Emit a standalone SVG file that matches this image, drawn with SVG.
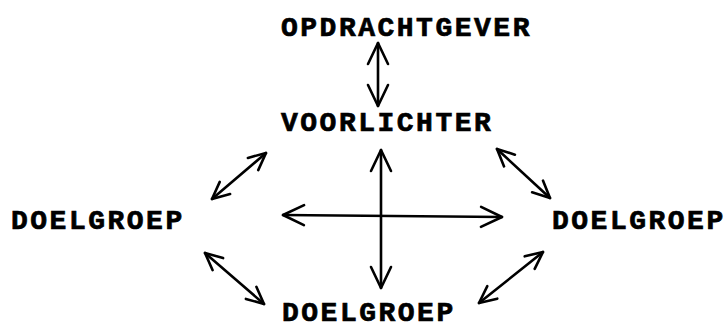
<svg xmlns="http://www.w3.org/2000/svg" width="727" height="329" viewBox="0 0 727 329">
  <style>
    .lbl { font-family: "Liberation Mono", "Courier New", monospace; font-weight: bold; font-size: 28px; letter-spacing: 2.5px; fill: #000; stroke: #000; stroke-width: 0.7px; }
    .con { stroke: #000; stroke-width: 2.6; fill: none; stroke-linecap: round; }
    .big { marker-start: url(#head); marker-end: url(#head); }
    .sm { marker-start: url(#headS); marker-end: url(#headS); }
  </style>
  <defs>
    <marker id="head" markerUnits="userSpaceOnUse" viewBox="-24 -13 26 26" refX="0" refY="0" markerWidth="26" markerHeight="26" orient="auto-start-reverse">
      <path d="M-21,-10 L0,0 L-21,10" fill="none" stroke="#000" stroke-width="2.6" stroke-linecap="round" stroke-linejoin="round"/>
    </marker>
    <marker id="headS" markerUnits="userSpaceOnUse" viewBox="-24 -13 26 26" refX="0" refY="0" markerWidth="26" markerHeight="26" orient="auto-start-reverse">
      <path d="M-17,-8 L0,0 L-17,8" fill="none" stroke="#000" stroke-width="2.6" stroke-linecap="round" stroke-linejoin="round"/>
    </marker>
  </defs>
  <rect width="727" height="329" fill="#fff"/>
  <g id="opdrachtgever"><text class="lbl" x="281" y="36">OPDRACHTGEVER</text></g>
  <g id="voorlichter"><text class="lbl" x="281" y="131">VOORLICHTER</text></g>
  <g id="doelgroep-links"><text class="lbl" x="11" y="229">DOELGROEP</text></g>
  <g id="doelgroep-rechts"><text class="lbl" x="552" y="229">DOELGROEP</text></g>
  <g id="doelgroep-onder"><text class="lbl" x="282" y="321">DOELGROEP</text></g>
  <g id="connectors">
    <line class="con big" x1="378" y1="43" x2="378" y2="106"/>
    <line class="con big" x1="381" y1="150" x2="381" y2="288"/>
    <line class="con big" x1="283" y1="215" x2="502" y2="217"/>
    <line class="con sm" x1="212" y1="199" x2="266" y2="153"/>
    <line class="con sm" x1="205" y1="253" x2="264" y2="304"/>
    <line class="con sm" x1="497" y1="149" x2="550" y2="198"/>
    <line class="con sm" x1="543" y1="252" x2="479" y2="303"/>
  </g>
</svg>
